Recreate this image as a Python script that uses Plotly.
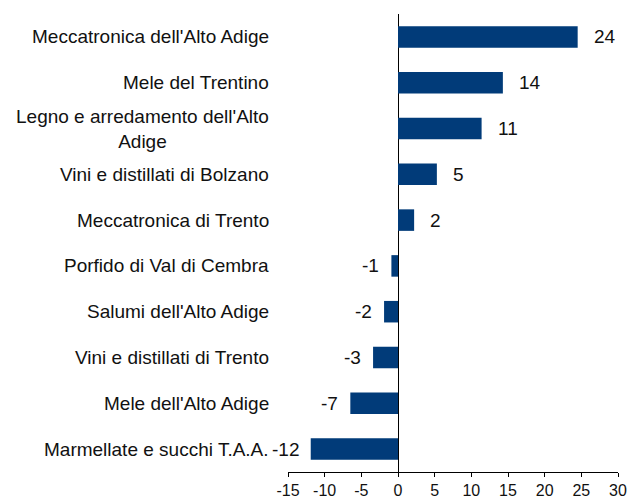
import plotly.graph_objects as go

categories = [
    "Meccatronica dell'Alto Adige",
    "Mele del Trentino",
    "Legno e arredamento dell'Alto<br>Adige",
    "Vini e distillati di Bolzano",
    "Meccatronica di Trento",
    "Porfido di Val di Cembra",
    "Salumi dell'Alto Adige",
    "Vini e distillati di Trento",
    "Mele dell'Alto Adige",
    "Marmellate e succhi T.A.A.",
]
values = [24.5, 14.3, 11.4, 5.3, 2.2, -0.9, -1.9, -3.4, -6.5, -11.9]
value_labels = ["24", "14", "11", "5", "2", "-1", "-2", "-3", "-7", "-12"]
x_ticks = [-15, -10, -5, 0, 5, 10, 15, 20, 25, 30]

BAR = "#013b79"
FONT = "Liberation Sans, Arial, sans-serif"
TXT = "#111111"

ypos = list(range(len(categories)))

fig = go.Figure(go.Bar(
    x=values, y=ypos, orientation="h",
    marker=dict(color=BAR, line=dict(width=0)),
    width=0.47,
))

annotations = []
for i, (cat, v, lab) in enumerate(zip(categories, values, value_labels)):
    annotations.append(dict(
        x=0, xref="paper", y=i, yref="y", text=cat, showarrow=False,
        xanchor="right", xshift=-17, align="center",
        font=dict(family=FONT, size=19, color=TXT),
    ))
    annotations.append(dict(
        x=v, xref="x", y=i, yref="y", text=lab, showarrow=False,
        xanchor="left" if v >= 0 else "right",
        xshift=14 if v >= 0 else -10,
        font=dict(family=FONT, size=19, color=TXT),
    ))

fig.update_layout(
    width=630, height=501,
    margin=dict(l=288, r=12, t=14, b=29, autoexpand=False),
    plot_bgcolor="white", paper_bgcolor="white",
    showlegend=False,
    annotations=annotations,
    xaxis=dict(
        range=[-15, 30], tickvals=x_ticks, ticktext=[str(t) for t in x_ticks],
        showgrid=False, zeroline=True, zerolinecolor="black", zerolinewidth=1,
        showline=True, linecolor="black", linewidth=1,
        ticks="outside", ticklen=4, tickcolor="black",
        tickfont=dict(family=FONT, size=16, color=TXT),
        automargin=False,
    ),
    yaxis=dict(
        range=[9.5, -0.5], showticklabels=False, showgrid=False,
        zeroline=False, showline=False, ticks="", automargin=False,
    ),
)

fig.write_html(
    "out.html",
    config={"displayModeBar": False},
    post_script="document.body.style.margin='0';document.body.style.overflow='hidden';",
)
